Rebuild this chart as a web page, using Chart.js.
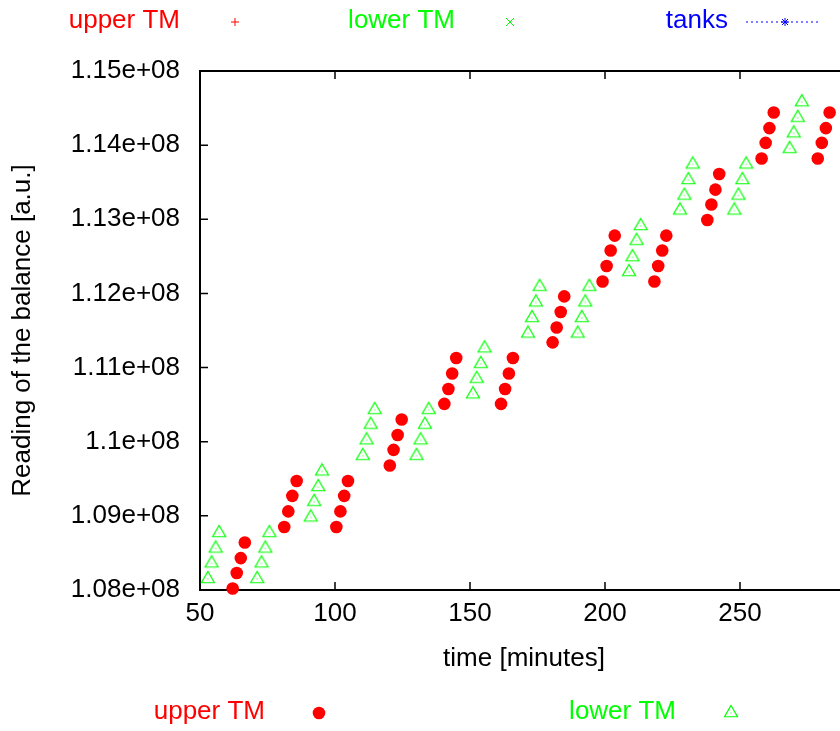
<!DOCTYPE html>
<html>
<head>
<meta charset="utf-8">
<script src="https://cdn.jsdelivr.net/npm/chart.js@4/dist/chart.umd.min.js"></script>
<style>
  html, body { margin: 0; padding: 0; background: #fff; overflow: hidden; }
  canvas { display: block; }
</style>
</head>
<body>
<canvas id="balanceChart" width="860" height="731"></canvas>
<script>
// upper TM: time [minutes] and reading [x 1e6 a.u.]
const upperTime = [
  62.1, 63.6, 65.1, 66.6,   81.2, 82.7, 84.2, 85.8,   100.5, 102.0, 103.4, 104.8,
  120.3, 121.7, 123.2, 124.7, 140.5, 142.0, 143.4, 144.9, 161.5, 163.0, 164.4, 165.9,
  180.6, 182.1, 183.6, 184.9, 199.1, 200.6, 202.1, 203.6, 218.3, 219.7, 221.2, 222.7,
  237.9, 239.4, 240.9, 242.3, 258.0, 259.5, 260.9, 262.5, 278.8, 280.3, 281.8, 283.2
];
const upperReading = [
  108.02, 108.23, 108.43, 108.64, 108.85, 109.06, 109.27, 109.47, 108.85, 109.06, 109.27, 109.47,
  109.68, 109.89, 110.09, 110.30, 110.51, 110.71, 110.92, 111.13, 110.51, 110.71, 110.92, 111.13,
  111.34, 111.54, 111.75, 111.96, 112.16, 112.37, 112.58, 112.78, 112.16, 112.37, 112.58, 112.78,
  112.99, 113.20, 113.40, 113.61, 113.82, 114.03, 114.23, 114.44, 113.82, 114.03, 114.23, 114.44
];

// lower TM
const lowerTime = [
  52.9, 54.3, 55.8, 57.1,   71.2, 72.8, 74.2, 75.7,   91.0, 92.3, 93.8, 95.2,
  110.3, 111.7, 113.2, 114.7, 130.2, 131.7, 133.3, 134.7, 151.1, 152.5, 154.0, 155.4,
  171.5, 173.0, 174.4, 175.8, 189.9, 191.4, 192.7, 194.2, 208.9, 210.2, 211.7, 213.2,
  227.8, 229.4, 230.9, 232.5, 247.9, 249.4, 250.9, 252.3, 268.4, 269.9, 271.4, 272.9
];
const lowerReading = [
  108.15, 108.36, 108.56, 108.77, 108.15, 108.36, 108.56, 108.77, 108.98, 109.19, 109.39, 109.60,
  109.81, 110.02, 110.23, 110.43, 109.81, 110.02, 110.23, 110.43, 110.64, 110.85, 111.05, 111.26,
  111.46, 111.67, 111.88, 112.09, 111.46, 111.67, 111.88, 112.09, 112.29, 112.49, 112.71, 112.91,
  113.12, 113.32, 113.53, 113.74, 113.12, 113.32, 113.53, 113.74, 113.95, 114.16, 114.37, 114.58
];

const xTicks = [50, 100, 150, 200, 250];
const yTicks = [108, 109, 110, 111, 112, 113, 114, 115];

const FONT = "'Liberation Sans', Arial, Helvetica, sans-serif";
Chart.defaults.font.family = FONT;
Chart.defaults.font.size = 26;
Chart.defaults.color = '#000';

// gnuplot style triangle with a dot in the middle
function makeTriangle() {
  const c = document.createElement('canvas');
  c.width = 18; c.height = 18;
  const g = c.getContext('2d');
  g.strokeStyle = '#00ff00';
  g.lineWidth = 1.2;
  g.beginPath();
  g.moveTo(9, 1.5); g.lineTo(15.5, 12.75); g.lineTo(2.5, 12.75);
  g.closePath();
  g.stroke();
  g.fillStyle = '#00ff00';
  g.fillRect(8.5, 8.5, 1, 1);
  return c;
}
const triangle = makeTriangle();

function toPoints(xs, ys) {
  return xs.map((x, i) => ({ x: x, y: ys[i] * 1e6 }));
}

const framePlugin = {
  id: 'frame',
  beforeDatasetsDraw(chart) {
    const ctx = chart.ctx;
    const a = chart.chartArea;
    const xs = chart.scales.x, ys = chart.scales.y;
    ctx.save();
    ctx.strokeStyle = '#000';
    ctx.lineWidth = 1.5;
    ctx.beginPath();
    xTicks.forEach(v => {
      const px = xs.getPixelForValue(v);
      ctx.moveTo(px, a.bottom); ctx.lineTo(px, a.bottom - 8);
      ctx.moveTo(px, a.top); ctx.lineTo(px, a.top + 8);
    });
    yTicks.forEach(v => {
      const py = ys.getPixelForValue(v * 1e6);
      ctx.moveTo(a.left, py); ctx.lineTo(a.left + 8, py);
      ctx.moveTo(a.right, py); ctx.lineTo(a.right - 8, py);
    });
    ctx.stroke();
    ctx.lineWidth = 2;
    ctx.strokeRect(a.left, a.top, a.right - a.left, a.bottom - a.top);
    ctx.restore();
  },
  afterDraw(chart) {
    const ctx = chart.ctx;
    const a = chart.chartArea;
    ctx.save();
    ctx.font = '26px ' + FONT;
    ctx.textBaseline = 'middle';

    // axis titles
    ctx.fillStyle = '#000';
    ctx.textAlign = 'center';
    ctx.fillText('time [minutes]', (a.left + a.right) / 2, 659);
    ctx.save();
    ctx.translate(23, (a.top + a.bottom) / 2);
    ctx.rotate(-Math.PI / 2);
    ctx.fillText('Reading of the balance [a.u.]', 0, 0);
    ctx.restore();

    // top key
    ctx.textAlign = 'right';
    ctx.fillStyle = '#ff0000';
    ctx.fillText('upper TM', 180, 21);
    ctx.fillStyle = '#00ff00';
    ctx.fillText('lower TM', 455, 21);
    ctx.fillStyle = '#0000ff';
    ctx.fillText('tanks', 728, 21);

    ctx.lineWidth = 1;
    ctx.strokeStyle = '#ff0000';
    ctx.beginPath();
    ctx.moveTo(231, 22); ctx.lineTo(239, 22);
    ctx.moveTo(235, 18); ctx.lineTo(235, 26);
    ctx.stroke();

    ctx.strokeStyle = '#00ff00';
    ctx.beginPath();
    ctx.moveTo(506, 18); ctx.lineTo(514, 26);
    ctx.moveTo(514, 18); ctx.lineTo(506, 26);
    ctx.stroke();

    ctx.strokeStyle = '#0000ff';
    ctx.setLineDash([2, 3]);
    ctx.beginPath();
    ctx.moveTo(746, 22); ctx.lineTo(819, 22);
    ctx.stroke();
    ctx.setLineDash([]);
    ctx.beginPath();
    ctx.moveTo(781, 22); ctx.lineTo(789, 22);
    ctx.moveTo(785, 18); ctx.lineTo(785, 26);
    ctx.moveTo(782, 19); ctx.lineTo(788, 25);
    ctx.moveTo(788, 19); ctx.lineTo(782, 25);
    ctx.stroke();

    // bottom key
    ctx.fillStyle = '#ff0000';
    ctx.fillText('upper TM', 265, 712);
    ctx.beginPath();
    ctx.arc(319, 713, 6.3, 0, Math.PI * 2);
    ctx.fill();
    ctx.fillStyle = '#00ff00';
    ctx.fillText('lower TM', 676, 712);
    ctx.drawImage(triangle, 731 - 9, 713 - 9);
    ctx.restore();
  }
};

new Chart(document.getElementById('balanceChart'), {
  type: 'scatter',
  data: {
    datasets: [
      {
        label: 'upper TM',
        data: toPoints(upperTime, upperReading),
        pointStyle: 'circle',
        pointRadius: 6.3,
        pointBackgroundColor: '#ff0000',
        pointBorderWidth: 0,
        clip: false
      },
      {
        label: 'lower TM',
        data: toPoints(lowerTime, lowerReading),
        pointStyle: triangle,
        clip: false
      }
    ]
  },
  options: {
    responsive: false,
    animation: false,
    devicePixelRatio: 1,
    layout: { padding: { top: 71, right: 12, left: 0, bottom: 0 } },
    plugins: { legend: { display: false }, tooltip: { enabled: false } },
    scales: {
      x: {
        type: 'linear',
        min: 50,
        max: 290,
        grid: { display: false, drawTicks: false },
        border: { display: false },
        afterBuildTicks: s => { s.ticks = xTicks.map(v => ({ value: v })); },
        afterFit: s => { s.height = 141; },
        ticks: { padding: 8, maxRotation: 0 }
      },
      y: {
        type: 'linear',
        min: 1.08e8,
        max: 1.15e8,
        grid: { display: false, drawTicks: false },
        border: { display: false },
        afterBuildTicks: s => { s.ticks = yTicks.map(v => ({ value: v * 1e6 })); },
        afterFit: s => { s.width = 200; },
        ticks: {
          padding: 20,
          callback: v => parseFloat((v / 1e8).toFixed(2)) + 'e+08'
        }
      }
    }
  },
  plugins: [framePlugin]
});
</script>
</body>
</html>
